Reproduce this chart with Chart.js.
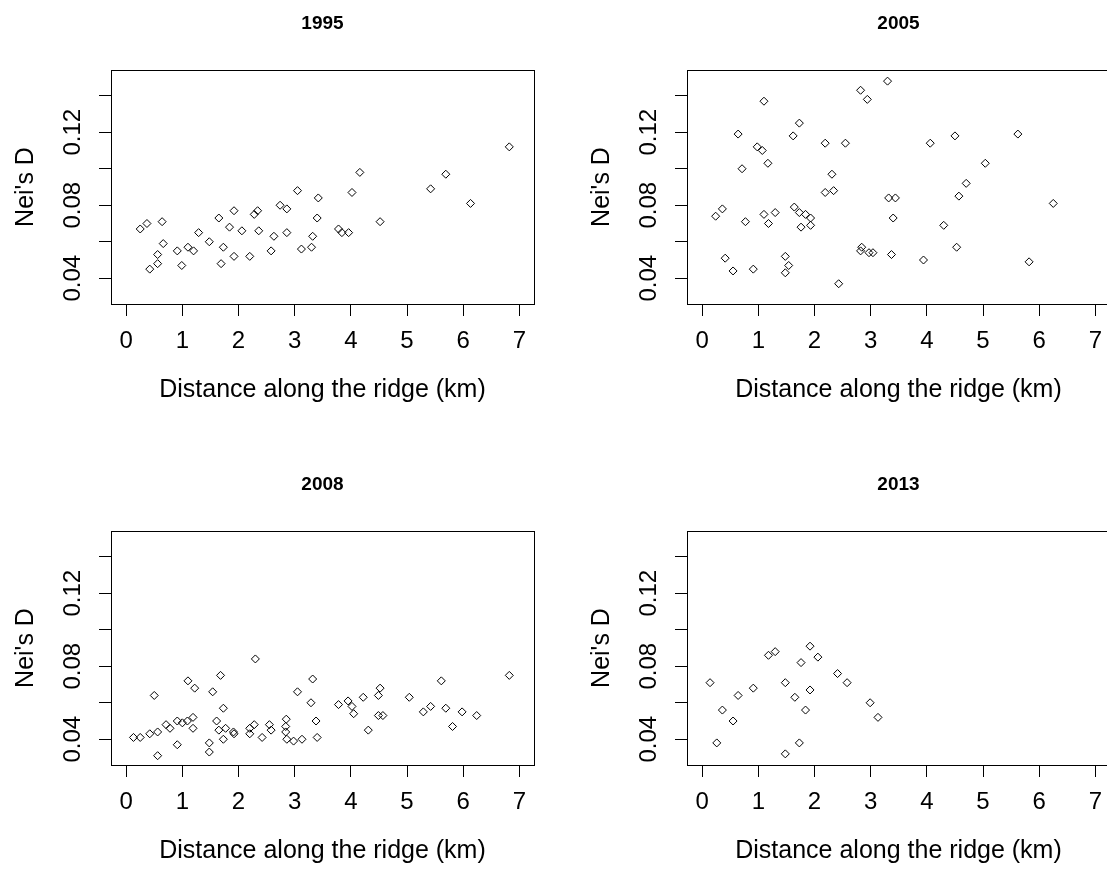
<!DOCTYPE html>
<html>
<head>
<meta charset="utf-8">
<script src="https://cdn.jsdelivr.net/npm/chart.js@4.4.1/dist/chart.umd.min.js"></script>
<style>
  html, body { margin: 0; padding: 0; background: #fff; overflow: hidden; width: 1107px; height: 869px; }
  .panel { position: absolute; }
  canvas { display: block; }
</style>
</head>
<body>
<div class="panel" style="left:0px;top:0px"><canvas id="c1995" width="560" height="440"></canvas></div>
<div class="panel" style="left:576px;top:0px"><canvas id="c2005" width="560" height="440"></canvas></div>
<div class="panel" style="left:0px;top:461px"><canvas id="c2008" width="560" height="440"></canvas></div>
<div class="panel" style="left:576px;top:461px"><canvas id="c2013" width="560" height="440"></canvas></div>
<script>
// Pairwise distance along the ridge (km) and Nei's genetic distance, by sampling year
const dist1995 = [0.25,0.37,0.64,0.66,0.56,0.56,0.42,0.91,0.99,1.10,1.20,1.29,1.48,1.65,1.69,1.73,1.84,1.92,1.92,2.06,2.20,2.28,2.34,2.36,2.58,2.63,2.74,2.86,2.86,3.05,3.12,3.30,3.32,3.40,3.42,3.78,3.84,3.96,4.02,4.16,4.52,5.42,5.69,6.13,6.82];
const nei1995  = [0.067,0.070,0.071,0.059,0.053,0.048,0.045,0.055,0.047,0.057,0.055,0.065,0.060,0.073,0.048,0.057,0.068,0.077,0.052,0.066,0.052,0.075,0.077,0.066,0.055,0.063,0.080,0.078,0.065,0.088,0.056,0.057,0.063,0.073,0.084,0.067,0.065,0.065,0.087,0.098,0.071,0.089,0.097,0.081,0.112];

const dist2005 = [0.24,0.36,0.41,0.55,0.64,0.71,0.77,0.91,0.98,1.07,1.10,1.10,1.17,1.18,1.30,1.48,1.48,1.54,1.62,1.64,1.73,1.73,1.76,1.84,1.93,1.93,2.19,2.19,2.31,2.34,2.43,2.55,2.82,2.94,2.84,2.82,2.97,3.04,3.30,3.32,3.44,3.40,3.37,3.94,4.06,4.30,4.50,4.53,4.57,4.70,5.04,5.62,5.82,6.25];
const nei2005  = [0.074,0.078,0.051,0.044,0.119,0.100,0.071,0.045,0.112,0.110,0.137,0.075,0.103,0.070,0.076,0.052,0.043,0.047,0.118,0.079,0.125,0.076,0.068,0.075,0.073,0.069,0.114,0.087,0.097,0.088,0.037,0.114,0.143,0.138,0.057,0.055,0.054,0.054,0.148,0.084,0.084,0.073,0.053,0.050,0.114,0.069,0.118,0.057,0.085,0.092,0.103,0.119,0.049,0.081];

const dist2008 = [0.13,0.25,0.42,0.50,0.56,0.56,0.71,0.78,0.91,0.91,1.00,1.09,1.10,1.19,1.22,1.19,1.48,1.48,1.54,1.61,1.65,1.68,1.73,1.73,1.77,1.91,1.92,2.20,2.20,2.28,2.30,2.42,2.55,2.58,2.85,2.84,2.84,2.86,2.98,3.05,3.13,3.29,3.32,3.38,3.40,3.78,3.95,4.02,4.05,4.22,4.49,4.52,4.49,4.57,4.31,5.04,5.29,5.42,5.61,5.69,5.81,5.98,6.24,6.82];
const nei2008  = [0.041,0.041,0.043,0.064,0.044,0.031,0.048,0.046,0.037,0.050,0.049,0.050,0.072,0.052,0.068,0.046,0.038,0.033,0.066,0.050,0.045,0.075,0.057,0.040,0.046,0.044,0.043,0.046,0.043,0.048,0.084,0.041,0.048,0.045,0.051,0.047,0.044,0.040,0.039,0.066,0.040,0.060,0.073,0.050,0.041,0.059,0.061,0.058,0.054,0.063,0.064,0.068,0.053,0.053,0.045,0.063,0.055,0.058,0.072,0.057,0.047,0.055,0.053,0.075];

const dist2013 = [0.14,0.26,0.36,0.55,0.64,0.91,1.18,1.30,1.48,1.48,1.65,1.73,1.76,1.84,1.92,1.92,2.06,2.41,2.58,2.99,3.13];
const nei2013  = [0.071,0.038,0.056,0.050,0.064,0.068,0.086,0.088,0.071,0.032,0.063,0.038,0.082,0.056,0.091,0.067,0.085,0.076,0.071,0.060,0.052];

// Axis ticks shared by all four panels
const xTickValues = [0, 1, 2, 3, 4, 5, 6, 7];
const yTickValues = [0.04, 0.06, 0.08, 0.10, 0.12, 0.14];
const yLabelValues = [0.04, 0.08, 0.12];

const xTitle = 'Distance along the ridge (km)';
const yTitle = "Nei's D";

const FONT = "'Liberation Sans', Arial, Helvetica, sans-serif";

// Plot frame around the chart area
const framePlugin = {
  id: 'frame',
  afterDraw(chart) {
    const a = chart.chartArea;
    const ctx = chart.ctx;
    ctx.save();
    ctx.strokeStyle = '#000';
    ctx.lineWidth = 1;
    ctx.strokeRect(Math.round(a.left) + 0.5, Math.round(a.top) + 0.5,
                   Math.round(a.right - a.left), Math.round(a.bottom - a.top));
    ctx.restore();
  }
};

function makePanel(id, year, xs, ys) {
  const pts = xs.map((x, i) => ({ x: x, y: ys[i] }));
  new Chart(document.getElementById(id), {
    type: 'scatter',
    data: {
      datasets: [{
        data: pts,
        pointStyle: 'rectRot',
        pointRadius: 4,
        pointBorderWidth: 1,
        pointBorderColor: '#000',
        pointBackgroundColor: 'rgba(0,0,0,0)'
      }]
    },
    options: {
      responsive: false,
      animation: false,
      events: [],
      devicePixelRatio: 1,
      layout: { padding: { top: 0, right: 26, bottom: 0, left: 0 } },
      plugins: {
        legend: { display: false },
        tooltip: { enabled: false },
        title: {
          display: true,
          text: year,
          fullSize: false,
          color: '#000',
          font: { family: FONT, size: 19, weight: 'bold' },
          padding: { top: 12, bottom: 35.2 }
        }
      },
      scales: {
        x: {
          type: 'linear',
          min: -0.27,
          max: 7.26,
          afterFit(scale) { scale.height = 136; },
          afterBuildTicks(scale) { scale.ticks = xTickValues.map(v => ({ value: v })); },
          grid: { drawOnChartArea: false, drawTicks: true, tickLength: 12, color: '#000', lineWidth: 1 },
          border: { display: true, color: '#000', width: 1 },
          ticks: {
            color: '#000',
            font: { family: FONT, size: 24 },
            padding: 11,
            maxRotation: 0,
            autoSkip: false,
            callback: v => String(v)
          },
          title: {
            display: true,
            text: xTitle,
            color: '#000',
            font: { family: FONT, size: 25 },
            padding: { top: 0, bottom: 35 }
          }
        },
        y: {
          type: 'linear',
          min: 0.0259,
          max: 0.1541,
          afterFit(scale) { scale.width = 111; },
          afterBuildTicks(scale) { scale.ticks = yTickValues.map(v => ({ value: v })); },
          grid: { drawOnChartArea: false, drawTicks: true, tickLength: 12, color: '#000', lineWidth: 1 },
          border: { display: true, color: '#000', width: 1 },
          ticks: {
            color: '#000',
            font: { family: FONT, size: 24 },
            padding: 2,
            minRotation: 90,
            maxRotation: 90,
            crossAlign: 'center',
            autoSkip: false,
            callback: v => yLabelValues.some(t => Math.abs(t - v) < 1e-9) ? v.toFixed(2) : ''
          },
          title: {
            display: true,
            text: yTitle,
            color: '#000',
            font: { family: FONT, size: 25 },
            padding: { top: 11, bottom: 0 }
          }
        }
      }
    },
    plugins: [framePlugin]
  });
}

makePanel('c1995', '1995', dist1995, nei1995);
makePanel('c2005', '2005', dist2005, nei2005);
makePanel('c2008', '2008', dist2008, nei2008);
makePanel('c2013', '2013', dist2013, nei2013);
</script>
</body>
</html>
